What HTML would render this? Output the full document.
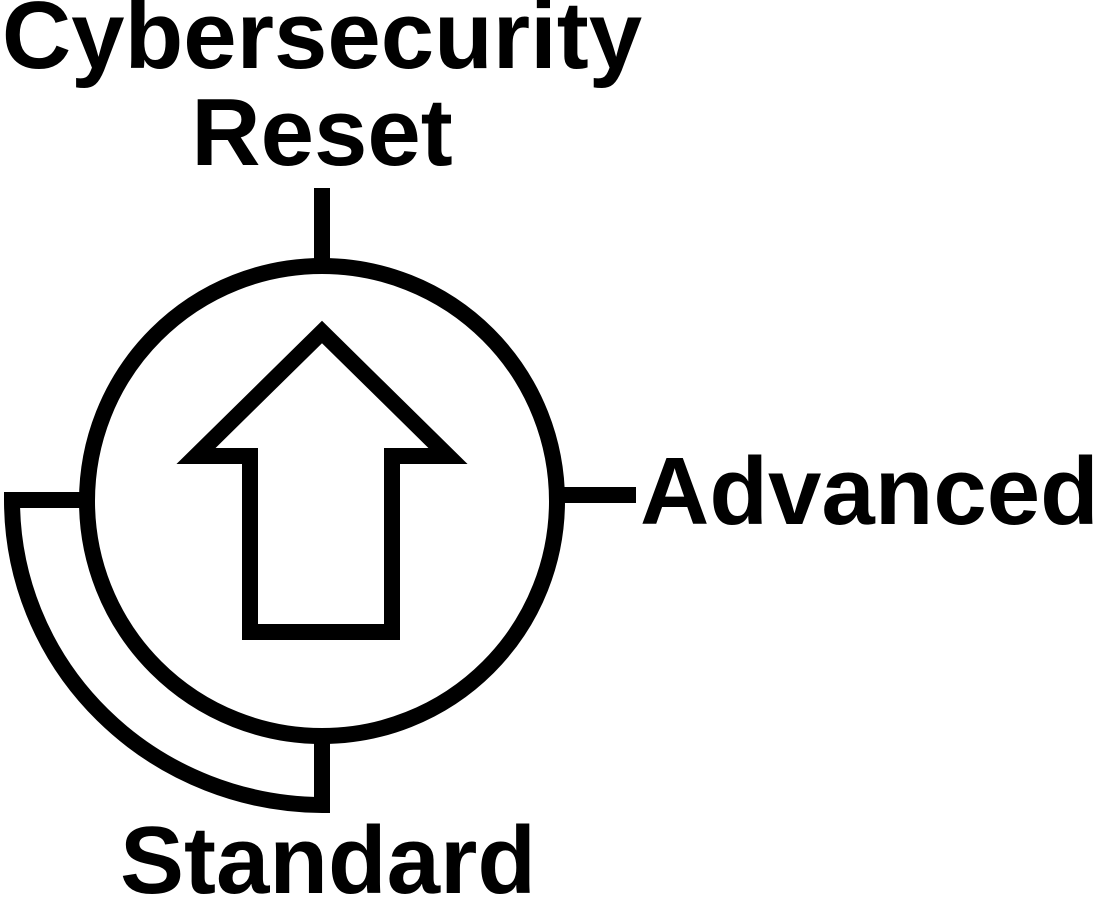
<!DOCTYPE html>
<html><head><style>
html,body{margin:0;padding:0;background:#fff;}
svg{display:block}
text{font-family:"Liberation Sans",Arial,sans-serif;font-weight:bold;font-size:96px;fill:#000}
</style></head><body>
<svg width="1102" height="899" viewBox="0 0 1102 899" xmlns="http://www.w3.org/2000/svg">
<text x="322" y="68" text-anchor="middle">Cybersecurity</text>
<text x="322" y="165" text-anchor="middle">Reset</text>
<text x="640" y="524">Advanced</text>
<text x="328" y="893" text-anchor="middle">Standard</text>
<g fill="none" stroke="#000" stroke-width="16">
<line x1="322" y1="188" x2="322" y2="266"/>
<line x1="557" y1="495" x2="636" y2="495"/>
<line x1="322" y1="736" x2="322" y2="808"/>
<circle cx="322" cy="501" r="235"/>
<path d="M88 500 L12 500 A312 305 0 0 0 322 805 L322 736" stroke-linejoin="miter"/>
<path d="M322 332 L448 456 L392 456 L392 632 L250 632 L250 456 L196 456 Z" stroke-linejoin="miter"/>
</g>
</svg>
</body></html>
